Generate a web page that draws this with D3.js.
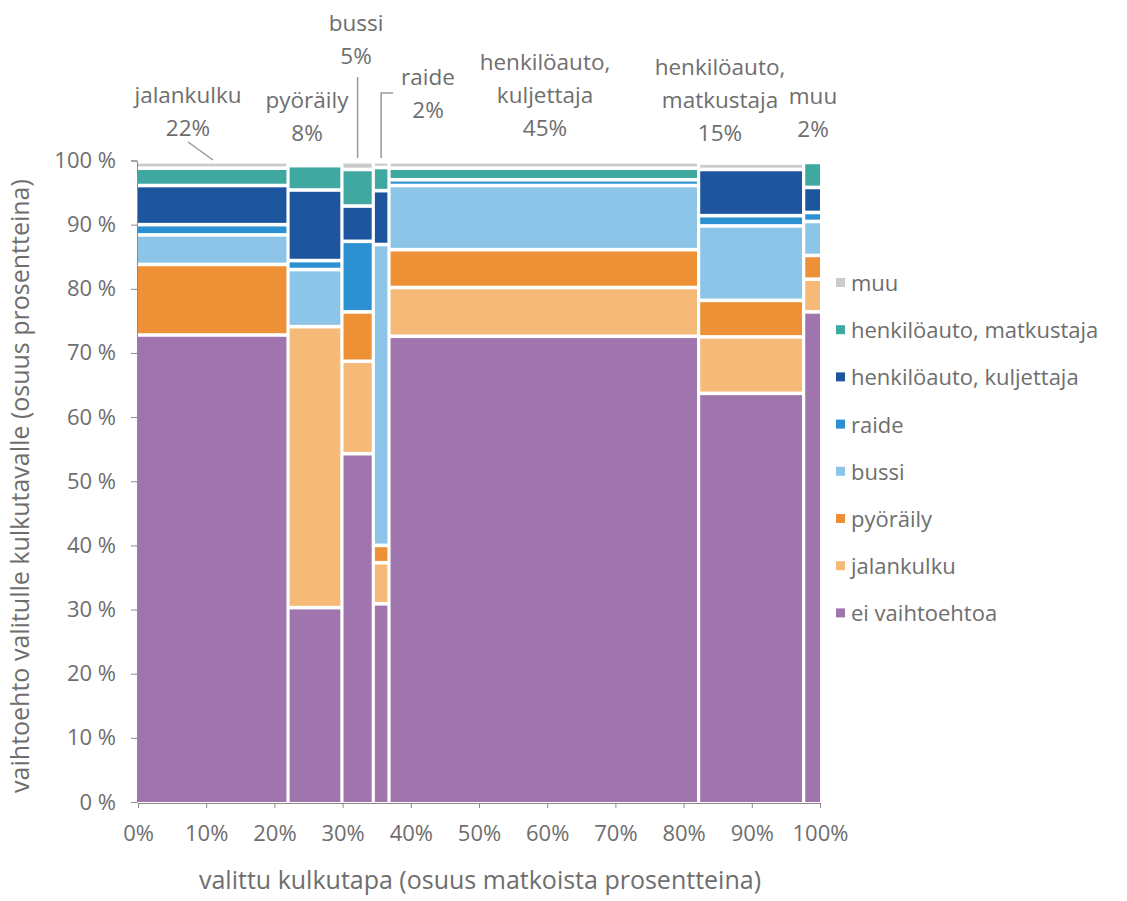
<!DOCTYPE html>
<html>
<head>
<meta charset="utf-8">
<script src="https://cdn.jsdelivr.net/npm/d3@7"></script>
<style>
  body { margin: 0; background: #fff; }
  svg text { font-family: "Open Sans", Lato, sans-serif; fill: #6e6e6e; }
  .axis path, .axis line { stroke: #8a8a8a; }
</style>
</head>
<body>
<svg id="chart" width="1127" height="901"></svg>
<script>
// chosen travel mode (columns) and their share of trips
var modes = ['jalankulku', 'pyöräily', 'bussi', 'raide',
  'henkilöauto, kuljettaja', 'henkilöauto, matkustaja', 'muu'];
var shares = [22.0, 7.9, 4.6, 2.3, 45.4, 15.4, 2.4];
var modeLabels = [['jalankulku', '22%'], ['pyöräily', '8%'], ['bussi', '5%'], ['raide', '2%'],
  ['henkilöauto,', 'kuljettaja', '45%'], ['henkilöauto,', 'matkustaja', '15%'], ['muu', '2%']];

// alternative mode shares within each column (%), bottom to top
var eiVaihtoehtoa = [72.8, 30.3, 54.3, 30.9, 72.6, 63.7, 76.4];
var jalankulku    = [0, 43.8, 14.4, 6.4, 7.6, 8.8, 5.1];
var pyoraily      = [11.0, 0, 7.7, 2.7, 5.9, 5.7, 3.7];
var bussi         = [4.6, 8.9, 0, 46.9, 10.0, 11.6, 5.3];
var raide         = [1.6, 1.4, 11.0, 0, 0.9, 1.6, 1.4];
var kuljettaja    = [6.1, 11.0, 5.5, 8.4, 0, 7.2, 3.9];
var matkustaja    = [2.7, 3.8, 5.7, 3.6, 1.8, 0, 3.9];
var muu           = [1.0, 0, 1.2, 0.9, 1.0, 1.0, 0];

var seriesKeys = ['ei vaihtoehtoa', 'jalankulku', 'pyöräily', 'bussi', 'raide',
  'henkilöauto, kuljettaja', 'henkilöauto, matkustaja', 'muu'];
var seriesValues = [eiVaihtoehtoa, jalankulku, pyoraily, bussi, raide, kuljettaja, matkustaja, muu];
var colors = ['#a074ad', '#f5b978', '#ee9136', '#8dc5e8', '#2b91d2', '#1e559f', '#3fa8a0', '#cbcbcb'];

var xTicks = [0, 10, 20, 30, 40, 50, 60, 70, 80, 90, 100];
var yTicks = [0, 10, 20, 30, 40, 50, 60, 70, 80, 90, 100];

var svg = d3.select('#chart');
var plotLeft = 138, plotRight = 820, plotTop = 160.5, plotBottom = 802;
var gapX = 1.6, gapY = 1.8;

var x = d3.scaleLinear().domain([0, 100]).range([plotLeft, plotRight]);
var y = d3.scaleLinear().domain([0, 100]).range([plotBottom, plotTop]);
var color = d3.scaleOrdinal(seriesKeys, colors);

// table rows, one per chosen mode
var x0 = 0;
var rows = modes.map(function (m, i) {
  var r = { mode: m, x0: x0, x1: x0 + shares[i] };
  x0 += shares[i];
  seriesKeys.forEach(function (k, j) { r[k] = seriesValues[j][i]; });
  return r;
});

var stacked = d3.stack().keys(seriesKeys)(rows);

svg.append('g')
  .selectAll('g')
  .data(stacked)
  .enter().append('g')
  .attr('fill', function (d) { return color(d.key); })
  .selectAll('rect')
  .data(function (d) { return d.filter(function (s) { return s[1] - s[0] > 0; }); })
  .enter().append('rect')
  .attr('x', function (d) { return x(d.data.x0) + (d.data.x0 > 0 ? gapX : 0); })
  .attr('width', function (d) {
    return x(d.data.x1) - x(d.data.x0) - (d.data.x0 > 0 ? gapX : 0) - (d.data.x1 < 99.9 ? gapX : 0);
  })
  .attr('y', function (d) { return y(d[1]) + gapY; })
  .attr('height', function (d) {
    return Math.max(0.5, y(d[0]) - y(d[1]) - gapY - (d[0] > 0 ? gapY : 0));
  });

// axes
var yAxis = svg.append('g')
  .attr('class', 'axis')
  .attr('transform', 'translate(' + (plotLeft - 1) + ',0)')
  .call(d3.axisLeft(y).tickValues(yTicks).tickSize(6).tickFormat(function (d) { return d + ' %'; }));
yAxis.selectAll('text').attr('x', -21).style('font-size', '22px');

var xAxis = svg.append('g')
  .attr('class', 'axis')
  .attr('transform', 'translate(0,' + (plotBottom + 1) + ')')
  .call(d3.axisBottom(x).tickValues(xTicks).tickSize(5).tickFormat(function (d) { return d + '%'; }));
xAxis.selectAll('text').attr('y', 22).style('font-size', '22px');
svg.selectAll('.axis path').attr('fill', 'none');

svg.append('text')
  .attr('x', 480)
  .attr('y', 889)
  .attr('text-anchor', 'middle')
  .style('font-size', '25px')
  .text('valittu kulkutapa (osuus matkoista prosentteina)');

svg.append('text')
  .attr('transform', 'translate(29,' + 486 + ') rotate(-90)')
  .attr('text-anchor', 'middle')
  .style('font-size', '25px')
  .text('vaihtoehto valitulle kulkutavalle (osuus prosentteina)');

// mode labels above columns
var labelCx = [188, 307, 356, 428, 545, 720, 813];
var labelTop = [95, 100, 23, 77, 62, 67, 96];
var labels = svg.append('g');
modeLabels.forEach(function (lines, i) {
  var t = labels.append('text')
    .attr('text-anchor', 'middle')
    .style('font-size', '22.5px');
  lines.forEach(function (line, j) {
    t.append('tspan')
      .attr('x', labelCx[i])
      .attr('y', labelTop[i] + j * 33 + 8)
      .text(line);
  });
});

// leader lines for small columns
var leader = d3.line();
var bussiMid = x((rows[2].x0 + rows[2].x1) / 2);
var raideMid = x((rows[3].x0 + rows[3].x1) / 2);
var leaders = [
  [[188, 142], [213, 160]],
  [[bussiMid, 77], [bussiMid, 158]],
  [[393, 93], [raideMid, 93], [raideMid, 158]]
];
svg.append('g')
  .selectAll('path')
  .data(leaders)
  .enter().append('path')
  .attr('d', leader)
  .attr('fill', 'none')
  .attr('stroke', '#9a9a9a')
  .attr('stroke-width', 1.5);

// legend, top to bottom
var legendKeys = seriesKeys.slice().reverse();
var legend = svg.append('g')
  .selectAll('g')
  .data(legendKeys)
  .enter().append('g')
  .attr('transform', function (d, i) { return 'translate(836,' + (283 + i * 47.2) + ')'; });
legend.append('rect')
  .attr('x', 0).attr('y', -5)
  .attr('width', 9).attr('height', 9)
  .attr('fill', function (d) { return color(d); });
legend.append('text')
  .attr('x', 15).attr('y', 8)
  .style('font-size', '22px')
  .text(function (d) { return d; });
</script>
</body>
</html>
